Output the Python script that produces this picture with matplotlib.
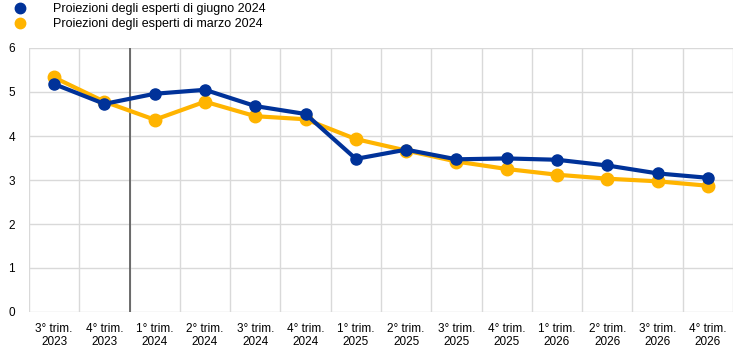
import matplotlib
matplotlib.use("Agg")
import matplotlib.pyplot as plt
from matplotlib.lines import Line2D

quarters = ["3° trim.\n2023", "4° trim.\n2023", "1° trim.\n2024", "2° trim.\n2024",
            "3° trim.\n2024", "4° trim.\n2024", "1° trim.\n2025", "2° trim.\n2025",
            "3° trim.\n2025", "4° trim.\n2025", "1° trim.\n2026", "2° trim.\n2026",
            "3° trim.\n2026", "4° trim.\n2026"]
giugno = [5.18, 4.73, 4.96, 5.05, 4.68, 4.50, 3.48, 3.69, 3.47, 3.49, 3.46, 3.33, 3.15, 3.05]
marzo = [5.33, 4.78, 4.37, 4.78, 4.45, 4.38, 3.93, 3.67, 3.42, 3.25, 3.12, 3.03, 2.97, 2.87]

BLUE = "#003299"
YELLOW = "#ffb400"

plt.rcParams["font.family"] = ["Liberation Sans", "DejaVu Sans"]
fig = plt.figure(figsize=(7.44, 3.55), dpi=100)
ax = fig.add_axes([29 / 744, 1 - 312 / 355, (733 - 29) / 744, (312 - 48) / 355])

x = list(range(len(quarters)))
ax.plot(x, giugno, color=BLUE, lw=3, marker="o", ms=8, zorder=4)
ax.plot(x, marzo, color=YELLOW, lw=3, marker="o", ms=9, zorder=3)

ax.set_xlim(-0.5, len(quarters) - 0.5)
ax.set_ylim(0, 6)
ax.set_yticks(range(0, 7))
ax.set_xticks(x)
ax.set_xticklabels(quarters, fontsize=8.5, linespacing=1.1)
ax.set_xticks([i + 0.5 for i in range(-1, len(quarters))], minor=True)
ax.tick_params(axis="x", which="both", length=0, pad=8)
ax.tick_params(axis="y", length=0, labelsize=8.5, pad=10)
ax.grid(True, axis="y", color="#d9d9d9", lw=1)
ax.grid(True, axis="x", which="minor", color="#d9d9d9", lw=1)
ax.set_axisbelow(True)
for s in ax.spines.values():
    s.set_visible(False)
ax.axvline(1.5, color="#555555", lw=1.2, zorder=1)

handles = [Line2D([0], [0], marker="o", color="none", markerfacecolor=BLUE, markeredgecolor=BLUE, ms=7.5,
                  label="Proiezioni degli esperti di giugno 2024"),
           Line2D([0], [0], marker="o", color="none", markerfacecolor=YELLOW, markeredgecolor=YELLOW, ms=7.5,
                  label="Proiezioni degli esperti di marzo 2024")]
fig.legend(handles=handles, loc="upper left", bbox_to_anchor=(0.007, 1.012), frameon=False,
           fontsize=9, handletextpad=2.0, labelspacing=0.25, handlelength=1.2, borderaxespad=0.2)

fig.savefig("out.png", dpi=100)
